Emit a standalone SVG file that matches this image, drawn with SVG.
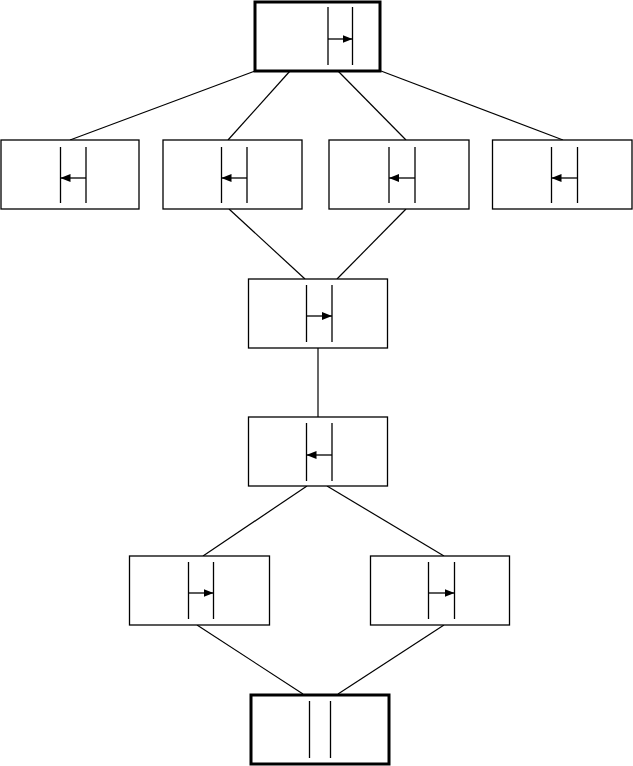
<svg xmlns="http://www.w3.org/2000/svg" width="633" height="766" viewBox="0 0 633 766">
<style>
.box{fill:#fff;stroke:#000;stroke-width:1.3}
.thick{fill:#fff;stroke:#000;stroke-width:3}
.bar{stroke:#000;stroke-width:1.3;fill:none}
.arr{stroke:#000;stroke-width:1.3;fill:none;marker-end:url(#ah)}
.conn line{stroke:#000;stroke-width:1.2}
</style>
<defs>
<marker id="ah" markerUnits="userSpaceOnUse" markerWidth="10" markerHeight="8" refX="10" refY="4" orient="auto">
<path d="M0,0 L10,4 L0,8 z" fill="#000"/>
</marker>
</defs>
<rect width="633" height="766" fill="#fff"/>
<g id="connectors" class="conn">
<line x1="255" y1="71" x2="70" y2="140"/>
<line x1="290" y1="71" x2="228" y2="140"/>
<line x1="338" y1="71" x2="406" y2="140"/>
<line x1="381" y1="71" x2="563" y2="140"/>
<line x1="229" y1="209" x2="305" y2="279"/>
<line x1="406" y1="209" x2="337" y2="279"/>
<line x1="318" y1="348" x2="318" y2="417"/>
<line x1="307" y1="486" x2="203" y2="556"/>
<line x1="327" y1="486" x2="444" y2="556"/>
<line x1="197" y1="625" x2="303" y2="694"/>
<line x1="444" y1="625" x2="338" y2="694"/>
</g>
<g id="n0">
<rect class="thick" x="255" y="2" width="125" height="69"/>
<line class="bar" x1="328" y1="7" x2="328" y2="65"/>
<line class="bar" x1="352.5" y1="7" x2="352.5" y2="65"/>
<line class="arr" x1="328" y1="39" x2="352.5" y2="39"/>
</g>
<g id="n1">
<rect class="box" x="1" y="140" width="138" height="69"/>
<line class="bar" x1="60.5" y1="147" x2="60.5" y2="203"/>
<line class="bar" x1="86" y1="147" x2="86" y2="203"/>
<line class="arr" x1="86" y1="178" x2="60.5" y2="178"/>
</g>
<g id="n2">
<rect class="box" x="163" y="140" width="139" height="69"/>
<line class="bar" x1="221.5" y1="147" x2="221.5" y2="203"/>
<line class="bar" x1="247" y1="147" x2="247" y2="203"/>
<line class="arr" x1="247" y1="178" x2="221.5" y2="178"/>
</g>
<g id="n3">
<rect class="box" x="329" y="140" width="140" height="69"/>
<line class="bar" x1="389" y1="147" x2="389" y2="203"/>
<line class="bar" x1="415" y1="147" x2="415" y2="203"/>
<line class="arr" x1="415" y1="178" x2="389" y2="178"/>
</g>
<g id="n4">
<rect class="box" x="492.5" y="140" width="139.5" height="69"/>
<line class="bar" x1="551.5" y1="147" x2="551.5" y2="203"/>
<line class="bar" x1="577.5" y1="147" x2="577.5" y2="203"/>
<line class="arr" x1="577.5" y1="178" x2="551.5" y2="178"/>
</g>
<g id="n5">
<rect class="box" x="248.5" y="279" width="139" height="69"/>
<line class="bar" x1="306.5" y1="285" x2="306.5" y2="342"/>
<line class="bar" x1="332" y1="285" x2="332" y2="342"/>
<line class="arr" x1="306.5" y1="316" x2="332" y2="316"/>
</g>
<g id="n6">
<rect class="box" x="248.5" y="417" width="139" height="69"/>
<line class="bar" x1="306.5" y1="423" x2="306.5" y2="481"/>
<line class="bar" x1="332" y1="423" x2="332" y2="481"/>
<line class="arr" x1="332" y1="455" x2="306.5" y2="455"/>
</g>
<g id="n7">
<rect class="box" x="129.5" y="556" width="140" height="69"/>
<line class="bar" x1="188.5" y1="562" x2="188.5" y2="619"/>
<line class="bar" x1="213.5" y1="562" x2="213.5" y2="619"/>
<line class="arr" x1="188.5" y1="593" x2="213.5" y2="593"/>
</g>
<g id="n8">
<rect class="box" x="370.5" y="556" width="139" height="69"/>
<line class="bar" x1="428.5" y1="562" x2="428.5" y2="619"/>
<line class="bar" x1="454.5" y1="562" x2="454.5" y2="619"/>
<line class="arr" x1="428.5" y1="593" x2="454.5" y2="593"/>
</g>
<g id="n9">
<rect class="thick" x="251" y="695" width="138" height="69"/>
<line class="bar" x1="309.5" y1="701" x2="309.5" y2="758"/>
<line class="bar" x1="330.5" y1="701" x2="330.5" y2="758"/>
</g>
</svg>
